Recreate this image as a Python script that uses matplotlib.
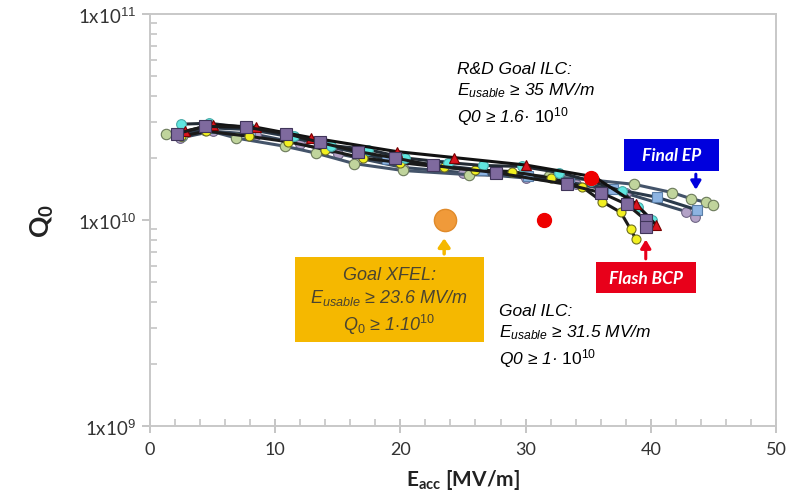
import matplotlib
matplotlib.use("Agg")
import matplotlib.pyplot as plt
from matplotlib.patches import Rectangle
from matplotlib.ticker import FixedLocator, MultipleLocator, LogLocator, NullFormatter

plt.rcParams['mathtext.fontset'] = 'custom'
plt.rcParams['mathtext.rm'] = 'Liberation Sans'
plt.rcParams['mathtext.it'] = 'Liberation Sans:italic'
plt.rcParams['mathtext.bf'] = 'Lato:bold'

# measured cavities, E_acc [MV/m] and Q0
green_e = [1.3, 2.6, 4.4, 6.9, 10.8, 13.3, 16.3, 20.2, 25.5, 31.9, 35.5, 38.7, 41.7, 43.2, 44.4, 45.0]
green_q = [2.63e10, 2.55e10, 2.75e10, 2.5e10, 2.28e10, 2.11e10, 1.88e10, 1.74e10, 1.66e10, 1.63e10,
           1.56e10, 1.49e10, 1.36e10, 1.27e10, 1.22e10, 1.18e10]

purple_e = [2.2, 4.4, 7.7, 10.9, 13.6, 16.6, 19.6, 22.6, 27.6, 33.3, 36.0, 38.1, 39.6, 39.6]
purple_q = [2.63e10, 2.85e10, 2.82e10, 2.63e10, 2.38e10, 2.15e10, 2.0e10, 1.84e10, 1.70e10, 1.49e10,
            1.36e10, 1.19e10, 1.0e10, 0.93e10]

red_e = [2.8, 5.0, 8.5, 12.9, 19.7, 24.3, 30.0, 35.5, 38.8, 40.4]
red_q = [2.7e10, 2.9e10, 2.82e10, 2.51e10, 2.15e10, 2.01e10, 1.85e10, 1.62e10, 1.2e10, 0.95e10]

cyan_e = [2.5, 4.7, 8.0, 11.5, 14.5, 17.4, 20.4, 23.8, 26.6, 29.7, 32.7, 35.2, 37.7, 39.0, 40.1]
cyan_q = [2.92e10, 2.95e10, 2.8e10, 2.55e10, 2.3e10, 2.2e10, 2.0e10, 1.9e10, 1.84e10, 1.82e10,
          1.7e10, 1.55e10, 1.38e10, 1.16e10, 1.0e10]

lblue_e = [2.4, 5.0, 8.0, 11.0, 14.0, 18.9, 23.0, 26.5, 30.2, 33.5, 37.0, 40.5, 43.7]
lblue_q = [2.6e10, 2.8e10, 2.75e10, 2.55e10, 2.3e10, 1.97e10, 1.85e10, 1.75e10, 1.63e10, 1.52e10,
           1.42e10, 1.29e10, 1.12e10]

yellow_e = [2.5, 4.5, 7.9, 11.0, 14.0, 17.0, 20.0, 23.5, 26.0, 28.9, 32.0, 34.5, 36.1, 37.6, 38.4, 38.8]
yellow_q = [2.55e10, 2.7e10, 2.55e10, 2.4e10, 2.2e10, 2.0e10, 1.9e10, 1.8e10, 1.75e10, 1.72e10,
            1.6e10, 1.45e10, 1.23e10, 1.09e10, 0.90e10, 0.81e10]

lav_e = [2.4, 5.0, 8.5, 12.0, 15.0, 20.2, 25.0, 30.0, 34.0, 38.0, 42.8, 43.5]
lav_q = [2.5e10, 2.7e10, 2.6e10, 2.35e10, 2.1e10, 1.8e10, 1.7e10, 1.6e10, 1.5e10, 1.35e10, 1.1e10, 1.04e10]

# goal points
xfel_goal = (23.6, 1.0e10)
ilc_goal = (31.5, 1.0e10)
rd_goal = (35.2, 1.6e10)

x_ticks = [0, 10, 20, 30, 40, 50]
y_ticks = [1e9, 1e10, 1e11]
y_labels = ['1x10$^{9}$', '1x10$^{10}$', '1x10$^{11}$']

series = [
    (lav_e, lav_q, 'o', '#b3a2c7', '#6f6585', '#3a4a5e', 7),
    (green_e, green_q, 'o', '#c0d49c', '#6b7a5a', '#44546a', 7.5),
    (lblue_e, lblue_q, 's', '#8db4e2', '#5b7fa8', '#2b3a4a', 7),
    (yellow_e, yellow_q, 'o', '#f2f020', '#6e6e20', '#1a1a1a', 6.5),
    (cyan_e, cyan_q, 'o', '#60e6e0', '#48aaa8', '#222a33', 7),
    (red_e, red_q, '^', '#d9141e', '#7a0000', '#111111', 7),
    (purple_e, purple_q, 's', '#7f6a9e', '#40355a', '#1a1a1a', 8.5),
]

fig = plt.figure(facecolor='w', figsize=(7.89, 5.02), dpi=100)
ax = fig.add_axes([0.190, 0.1494, 0.7935, 0.8206])
ax.set_yscale('log')

for e, q, m, fc, ec, lc, ms in series:
    ax.plot(e, q, color=lc, lw=2.2, marker=m, markersize=ms, markerfacecolor=fc,
            markeredgecolor=ec, markeredgewidth=0.8, zorder=3)

ax.plot([xfel_goal[0]], [xfel_goal[1]], 'o', markersize=16, markerfacecolor='#f09a3a',
        markeredgecolor='#e08a2a', zorder=4)
ax.plot([ilc_goal[0], rd_goal[0]], [ilc_goal[1], rd_goal[1]], 'o', linestyle='none',
        markersize=10, color='#ee0000', zorder=4)

ax.set_xlim(0, 50)
ax.set_ylim(1e9, 1e11)
ax.xaxis.set_major_locator(FixedLocator(x_ticks))
ax.xaxis.set_minor_locator(MultipleLocator(2))
ax.yaxis.set_major_locator(FixedLocator(y_ticks))
ax.yaxis.set_minor_locator(LogLocator(base=10, subs=range(2, 10)))
ax.yaxis.set_minor_formatter(NullFormatter())
ax.set_yticklabels(y_labels)

for s in ax.spines.values():
    s.set_color('#c8c8c8')
    s.set_linewidth(1.4)
ax.tick_params(which='major', axis='y', direction='out', length=6, width=1.3, color='#c0c0c0',
               labelsize=13.5, labelcolor='#333333', pad=4)
ax.tick_params(which='minor', axis='y', direction='in', length=5, width=1.1, color='#c0c0c0')
ax.tick_params(which='major', axis='x', direction='inout', length=10, width=1.3, color='#c0c0c0',
               labelsize=13, labelcolor='#333333', pad=6)
ax.tick_params(which='minor', axis='x', direction='in', length=5, width=1.1, color='#c0c0c0')
for lab in ax.get_xticklabels() + ax.get_yticklabels():
    lab.set_family('Lato')

ax.set_xlabel(r'E$_{\mathbf{acc}}$ [MV/m]', fontsize=15, fontweight='bold', family='Lato',
              color='#222222', labelpad=7)
ax.set_ylabel(r'Q$_{\mathbf{0}}$', fontsize=19, fontweight='bold', family='Lato',
              color='#222222', labelpad=16)

# R&D goal text
ax.text(24.5, 5.9e10, 'R&D Goal ILC:\n$E_{usable}$ \u2265 35 MV/m\nQ0 \u2265 1.6\u00b7 $\\mathrm{10^{10}}$',
        ha='left', va='top', fontsize=12.5, style='italic', family='Liberation Sans',
        linespacing=1.3, zorder=5)

# ILC goal text
ax.text(27.9, 3.95e9, 'Goal ILC:\n$E_{usable}$ \u2265 31.5 MV/m\nQ0 \u2265 1\u00b7 $\\mathrm{10^{10}}$',
        ha='left', va='top', fontsize=12.5, style='italic', family='Liberation Sans',
        linespacing=1.3, zorder=5)

# XFEL box
ax.add_patch(Rectangle((11.56, 2.56e9), 15.14, 6.64e9 - 2.56e9, facecolor='#f5b800',
                       edgecolor='none', zorder=2))
ax.text(19.1, 4.05e9, 'Goal XFEL:\n$E_{usable}$ \u2265 23.6 MV/m\n$Q_{0}$ \u2265 1$\\cdot$10$^{10}$',
        ha='center', va='center', fontsize=13, style='italic', family='Liberation Sans',
        color='#4a4430', linespacing=1.25, zorder=5)
ax.annotate('', xy=(23.5, 8.4e9), xytext=(23.5, 6.64e9),
            arrowprops=dict(arrowstyle='-|>,head_width=0.35,head_length=0.5', color='#f5b800', lw=2.5))

# Final EP box
ax.add_patch(Rectangle((37.88, 1.722e10), 7.57, 2.466e10 - 1.722e10, facecolor='#0000dd',
                       edgecolor='none', zorder=5))
ax.text(41.66, 2.06e10, 'Final EP', ha='center', va='center', fontsize=12.5, fontweight='bold',
        style='italic', family='Lato', color='white', zorder=6)
ax.annotate('', xy=(43.6, 1.36e10), xytext=(43.6, 1.722e10),
            arrowprops=dict(arrowstyle='-|>,head_width=0.3,head_length=0.5', color='#0000dd', lw=2.2),
            zorder=6)

# Flash BCP box
ax.add_patch(Rectangle((35.65, 4.44e9), 7.95, 6.28e9 - 4.44e9, facecolor='#e8001a',
                       edgecolor='none', zorder=5))
ax.text(39.62, 5.25e9, 'Flash BCP', ha='center', va='center', fontsize=12.5, fontweight='bold',
        style='italic', family='Lato', color='white', zorder=6)
ax.annotate('', xy=(39.6, 8.3e9), xytext=(39.6, 6.28e9),
            arrowprops=dict(arrowstyle='-|>,head_width=0.3,head_length=0.5', color='#e8001a', lw=2.2),
            zorder=6)

plt.savefig('out.png', dpi=100, facecolor='w')
